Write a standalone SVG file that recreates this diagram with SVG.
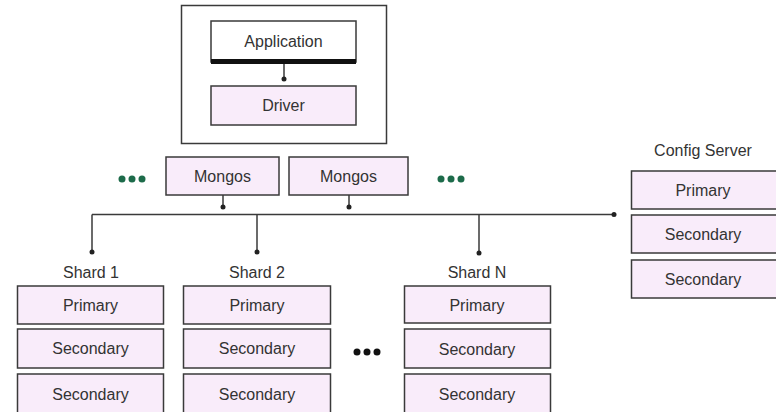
<svg xmlns="http://www.w3.org/2000/svg" width="776" height="412" viewBox="0 0 776 412">
  <style>
    .box { fill: #f9ecfa; stroke: #3a3a3a; stroke-width: 1.5; }
    .plain { fill: #ffffff; stroke: #3a3a3a; stroke-width: 1.5; }
    .lbl { font-family: "Liberation Sans", Arial, sans-serif; font-size: 16px; fill: #333333; text-anchor: middle; dominant-baseline: central; }
    .wire { stroke: #3a3a3a; stroke-width: 1.5; fill: none; }
    .tip { fill: #222222; }
    .more { fill: #1d6b4a; }
    .more-dark { fill: #111111; }
  </style>
  <rect x="0" y="0" width="776" height="412" fill="#ffffff"/>

  <!-- client host: application + driver -->
  <g id="client">
    <rect class="plain" x="181.5" y="5.5" width="205" height="138"/>
  </g>
  <g id="application">
    <rect class="plain" x="211" y="21" width="145" height="41"/>
    <rect x="211" y="59" width="145" height="5" fill="#111111"/>
    <text class="lbl" x="283.5" y="41">Application</text>
  </g>
  <g id="driver">
    <rect class="box" x="211" y="86" width="145" height="39"/>
    <text class="lbl" x="283.5" y="105.5">Driver</text>
  </g>

  <!-- query routers -->
  <g id="mongos1">
    <rect class="box" x="166" y="157" width="113" height="38"/>
    <text class="lbl" x="222.5" y="176">Mongos</text>
  </g>
  <g id="mongos2">
    <rect class="box" x="289" y="157" width="119" height="38"/>
    <text class="lbl" x="348.5" y="176">Mongos</text>
  </g>
  <g id="mongos-more-left">
    <circle class="more" cx="122" cy="179" r="3.5"/>
    <circle class="more" cx="132" cy="179" r="3.5"/>
    <circle class="more" cx="142" cy="179" r="3.5"/>
  </g>
  <g id="mongos-more-right">
    <circle class="more" cx="441" cy="179" r="3.5"/>
    <circle class="more" cx="451" cy="179" r="3.5"/>
    <circle class="more" cx="461" cy="179" r="3.5"/>
  </g>

  <!-- connectors -->
  <g id="connectors">
    <line class="wire" x1="284" y1="64" x2="284" y2="79"/>
    <circle class="tip" cx="284" cy="79" r="2.5"/>
    <line class="wire" x1="223" y1="195" x2="223" y2="207"/>
    <circle class="tip" cx="223" cy="207" r="2.5"/>
    <line class="wire" x1="349" y1="195" x2="349" y2="207"/>
    <circle class="tip" cx="349" cy="207" r="2.5"/>
    <!-- shared bus -->
    <line class="wire" x1="92" y1="214.5" x2="614" y2="214.5"/>
    <circle class="tip" cx="614" cy="214.5" r="2.5"/>
    <line class="wire" x1="92" y1="214.5" x2="92" y2="252"/>
    <circle class="tip" cx="92" cy="252" r="2.5"/>
    <line class="wire" x1="257" y1="214.5" x2="257" y2="252"/>
    <circle class="tip" cx="257" cy="252" r="2.5"/>
    <line class="wire" x1="479" y1="214.5" x2="479" y2="253"/>
    <circle class="tip" cx="479" cy="253" r="2.5"/>
  </g>

  <!-- shard 1 -->
  <g id="shard1">
    <text class="lbl" x="91" y="272">Shard 1</text>
    <rect class="box" x="17.5" y="286" width="146" height="38"/>
    <text class="lbl" x="90.5" y="305">Primary</text>
    <rect class="box" x="17.5" y="329" width="146" height="39"/>
    <text class="lbl" x="90.5" y="348.5">Secondary</text>
    <rect class="box" x="17.5" y="374" width="146" height="40"/>
    <text class="lbl" x="90.5" y="394">Secondary</text>
  </g>

  <!-- shard 2 -->
  <g id="shard2">
    <text class="lbl" x="257" y="272">Shard 2</text>
    <rect class="box" x="183.5" y="286" width="147" height="38"/>
    <text class="lbl" x="257" y="305">Primary</text>
    <rect class="box" x="183.5" y="329" width="147" height="39"/>
    <text class="lbl" x="257" y="348.5">Secondary</text>
    <rect class="box" x="183.5" y="374" width="147" height="40"/>
    <text class="lbl" x="257" y="394">Secondary</text>
  </g>

  <g id="shard-more">
    <circle class="more-dark" cx="357" cy="352" r="3.5"/>
    <circle class="more-dark" cx="367" cy="352" r="3.5"/>
    <circle class="more-dark" cx="377" cy="352" r="3.5"/>
  </g>

  <!-- shard N -->
  <g id="shardN">
    <text class="lbl" x="477" y="272">Shard N</text>
    <rect class="box" x="404.5" y="286" width="146" height="37"/>
    <text class="lbl" x="477" y="305">Primary</text>
    <rect class="box" x="404.5" y="329" width="146" height="39"/>
    <text class="lbl" x="477" y="349">Secondary</text>
    <rect class="box" x="404.5" y="374" width="146" height="40"/>
    <text class="lbl" x="477" y="394">Secondary</text>
  </g>

  <!-- config server replica set -->
  <g id="config">
    <text class="lbl" x="703" y="150">Config Server</text>
    <rect class="box" x="631.5" y="171" width="146" height="38"/>
    <text class="lbl" x="703" y="190">Primary</text>
    <rect class="box" x="631.5" y="215" width="146" height="38"/>
    <text class="lbl" x="703" y="234">Secondary</text>
    <rect class="box" x="631.5" y="260" width="146" height="38"/>
    <text class="lbl" x="703" y="279">Secondary</text>
  </g>
</svg>
